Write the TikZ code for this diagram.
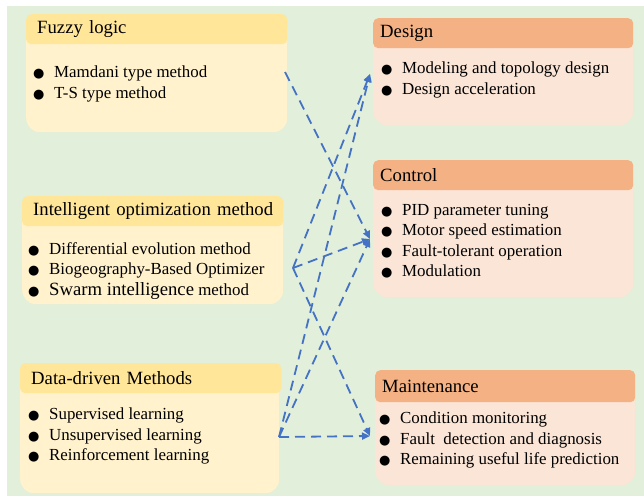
\documentclass[tikz,border=0pt]{standalone}
\usepackage{fontspec}
\setmainfont{Liberation Serif}
\newfontfamily\dotfont{DejaVu Sans}
\usetikzlibrary{arrows.meta, positioning}
\definecolor{bggreen}{HTML}{E2EFDA}
\definecolor{headyellow}{HTML}{FFE699}
\definecolor{bodyyellow}{HTML}{FFF2CC}
\definecolor{headorange}{HTML}{F4B183}
\definecolor{bodyorange}{HTML}{FBE5D6}
\definecolor{linkblue}{HTML}{4472C4}
\newcommand{\bul}{\makebox[21pt][l]{\dotfont\fontsize{13}{13}\selectfont ●}}

\tikzset{
	head/.style={anchor=north west, rounded corners=5pt, minimum width=260pt, minimum height=30pt,
		align=left, font=\fontsize{18.7}{22}\selectfont},
	lefthead/.style={head, fill=headyellow, text width=245pt, inner xsep=8pt,
		execute at begin node=\hspace*{3pt}},
	righthead/.style={head, fill=headorange, text width=246pt, inner xsep=7pt},
	body/.style={anchor=north west, rounded corners=14pt, minimum width=260pt, inner sep=0pt},
	items/.style={anchor=north west, align=left, inner sep=0pt, font=\fontsize{16.9}{20.5}\selectfont},
	link/.style={draw=linkblue, line width=1.8pt, dash pattern=on 10pt off 6pt,
		-{Triangle[length=8pt,width=7pt]}}
}

\begin{document}
\begin{tikzpicture}[x=1pt, y=-1pt]
	\useasboundingbox (0,0) rectangle (644,496);
	\fill[bggreen] (7,6) rectangle (644,496);

	% left column
	\node[body, fill=bodyyellow, minimum width=261pt, minimum height=118pt] (fuzzybody) at (26,14) {};
	\node[lefthead, minimum width=261pt] (fuzzy) at (26,14) {Fuzzy logic};
	\node[items] (fuzzyitems) at (33,66) {\bul Mamdani type method\\ \bul T-S type method};

	\node[body, fill=bodyyellow, minimum width=261pt, minimum height=108pt] (optbody) at (22,196) {};
	\node[lefthead, minimum width=261pt] (opt) at (22,196) {Intelligent optimization method};
	\node[items] (optitems) at (28,242) {\bul Differential evolution method\\ \bul Biogeography-Based Optimizer\\
		\bul {\fontsize{18.7}{20.5}\selectfont Swarm intelligence} method};

	\node[body, fill=bodyyellow, minimum width=259pt, minimum height=130pt] (databody) at (20,363) {};
	\node[lefthead, minimum width=259pt] (data) at (20,363) {Data-driven Methods};
	\node[items] (dataitems) at (28,408) {\bul Supervised learning\\ \bul Unsupervised learning\\ \bul Reinforcement learning};

	% right column
	\node[body, fill=bodyorange, minimum height=107pt] (designbody) at (373,18) {};
	\node[righthead] (design) at (373,18) {Design};
	\node[items] (designitems) at (381,62) {\bul Modeling and topology design\\ \bul Design acceleration};

	\node[body, fill=bodyorange, minimum height=137pt] (ctrlbody) at (373,160) {};
	\node[righthead] (ctrl) at (373,160) {Control};
	\node[items] (ctrlitems) at (381,204) {\bul PID parameter tuning\\ \bul Motor speed estimation\\
		\bul Fault-tolerant operation\\ \bul Modulation};

	\node[body, fill=bodyorange, minimum height=115pt] (maintbody) at (375,370) {};
	\node[righthead, minimum height=32pt] (maint) at (375,370) {Maintenance};
	\node[items] (maintitems) at (379,412) {\bul Condition monitoring\\ \bul Fault\ \ detection and diagnosis\\
		\bul Remaining useful life prediction};

	% connectors
	\coordinate (fuzzyout) at (285,72);
	\coordinate (optout) at (293,268);
	\coordinate (dataout) at (279,437);
	\coordinate (designin) at (370,74);
	\coordinate (ctrlin) at (370,239);
	\coordinate (maintin) at (370,436);

	\draw[link] (fuzzyout) -- (ctrlin);
	\draw[link] (optout) -- (designin);
	\draw[link] (optout) -- (ctrlin);
	\draw[link] (optout) -- (maintin);
	\draw[link] (dataout) -- (designin);
	\draw[link] (dataout) -- (ctrlin);
	\draw[link] (dataout) -- (maintin);
\end{tikzpicture}
\end{document}
